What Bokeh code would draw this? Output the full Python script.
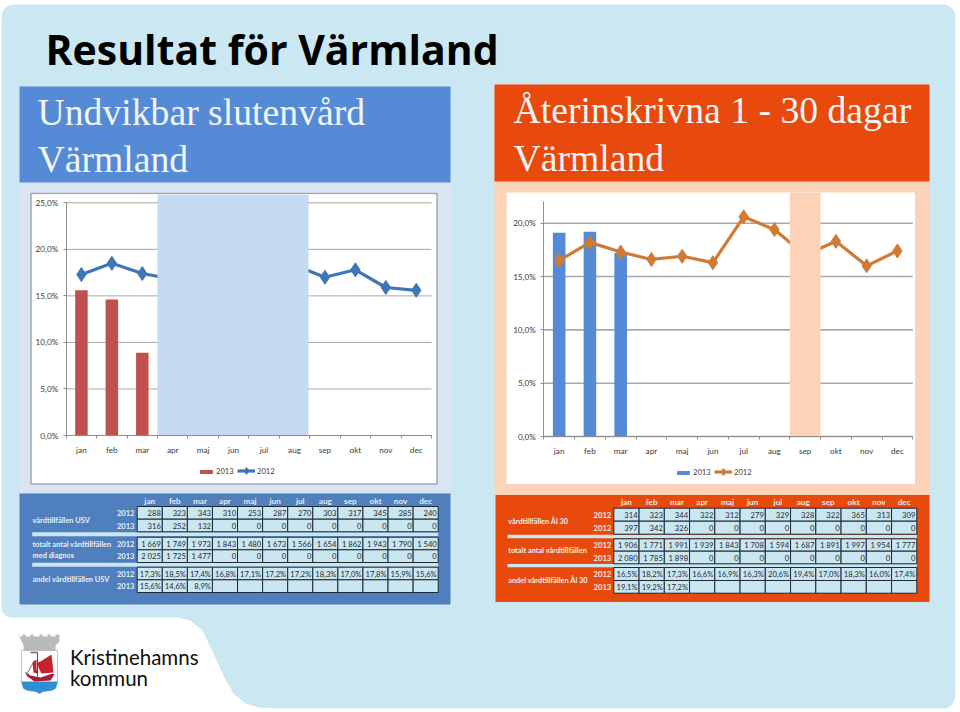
from bokeh.plotting import figure
from bokeh.embed import file_html
from bokeh.resources import INLINE
from bokeh.core.properties import value
from bokeh.models import Range1d, FixedTicker, Legend, LegendItem, ColumnDataSource

months = ["jan", "feb", "mar", "apr", "maj", "jun", "jul", "aug", "sep", "okt", "nov", "dec"]
pct_ticks = [0, 5, 10, 15, 20, 25]
pct_labels = ["0,0%", "5,0%", "10,0%", "15,0%", "20,0%", "25,0%"]

usv_count_2012 = [288, 323, 343, 310, 253, 287, 270, 303, 317, 345, 285, 240]
usv_count_2013 = [316, 252, 132, 0, 0, 0, 0, 0, 0, 0, 0, 0]
usv_total_2012 = [1669, 1749, 1973, 1843, 1480, 1673, 1566, 1654, 1862, 1943, 1790, 1540]
usv_total_2013 = [2025, 1725, 1477, 0, 0, 0, 0, 0, 0, 0, 0, 0]
usv_share_2012 = [17.3, 18.5, 17.4, 16.8, 17.1, 17.2, 17.2, 18.3, 17.0, 17.8, 15.9, 15.6]
usv_share_2013 = [15.6, 14.6, 8.9]

al_count_2012 = [314, 323, 344, 322, 312, 279, 329, 328, 322, 365, 313, 309]
al_count_2013 = [397, 342, 326, 0, 0, 0, 0, 0, 0, 0, 0, 0]
al_total_2012 = [1906, 1771, 1991, 1939, 1843, 1708, 1594, 1687, 1891, 1997, 1954, 1777]
al_total_2013 = [2080, 1785, 1898, 0, 0, 0, 0, 0, 0, 0, 0, 0]
al_share_2012 = [16.5, 18.2, 17.3, 16.6, 16.9, 16.3, 20.6, 19.4, 17.0, 18.3, 16.0, 17.4]
al_share_2013 = [19.1, 19.2, 17.2]

SANS = value("Lato")
SERIF = value("Liberation Serif")
BG = "#CAE7F2"
CELL = "#C9E6F1"
CELL_LINE = "#1F2A33"


def num(v):
    return f"{v:,}".replace(",", "\u00a0")


def pct(v):
    return f"{v:.1f}%".replace(".", ",")


def place(fig, left, top):
    fig.styles = {"position": "absolute", "left": f"{left}px", "top": f"{top}px"}


# ------------------------------------------------------------ backdrop
bg = figure(width=960, height=712, x_range=Range1d(0, 960), y_range=Range1d(712, 0),
            output_backend="svg", toolbar_location=None, min_border=0, outline_line_color=None,
            background_fill_color="white", border_fill_color="white")
bg.axis.visible = False
bg.grid.visible = False

page_x = [1, 1, 2, 5, 10, 178, 190, 202, 213, 223, 233, 245, 258, 272, 945, 951, 954, 955, 955, 954, 951, 945, 15, 8, 4, 2]
page_y = [18, 606, 611, 615, 617, 617, 620, 630, 653, 675, 693, 703, 707, 708, 708, 705, 700, 694, 16, 11, 7, 4, 4, 5, 8, 12]
bg.patch(page_x, page_y, fill_color=BG, line_color=None)

bg.text([45], [48], ["Resultat för Värmland"], text_font=value("Open Sans"), text_font_style="bold",
        text_font_size="41px", text_color="black", text_baseline="alphabetic")


def block(title_l, title_r, title_t, title_b, panel_b, title_color, panel_color, lines, xs, ys):
    bg.quad(left=[title_l], right=[title_r], top=[title_t], bottom=[panel_b], fill_color=panel_color, line_color=None)
    bg.quad(left=[title_l], right=[title_r], top=[title_t], bottom=[title_b], fill_color=title_color, line_color=None)
    bg.text(xs, ys, lines, text_font=SERIF, text_font_size="37.7px", text_color="#F2F5F8",
            text_baseline="alphabetic")


block(19, 450, 86, 182, 492, "#558BD6", "#DBE5F1", ["Undvikbar slutenvård", "Värmland"], [37, 37], [111, 158])
block(494, 929, 84, 181, 495, "#E8490C", "#FDD3B7", ["Återinskrivna 1 - 30 dagar", "Värmland"], [513, 513], [109, 157])

# panel behind left chart
bg.quad(left=[30.5], right=[436.5], top=[193], bottom=[483.5], fill_color="white", line_color="#A0A6AE", line_width=1.5)


def table(box, grid_l, grid_r, rows, strips, strip_l, header_y, year_x, label_x, labels, color, data):
    bg.quad(left=[box[0]], right=[box[1]], top=[box[2]], bottom=[box[3]], fill_color=color, line_color=None)
    w = (grid_r - grid_l) / 12
    # month heads
    bg.text([grid_l + (i + .5) * w for i in range(12)], [header_y] * 12, months, text_font=SANS,
            text_font_style="bold", text_font_size="8.2px", text_color="#E4EEF6", text_align="center",
            text_baseline="middle")
    for s in strips:
        bg.quad(left=[strip_l], right=[grid_r], top=[s[0]], bottom=[s[1]], fill_color=CELL, line_color=None)
    ls, rs, ts, bs, xs, ys, txt = [], [], [], [], [], [], []
    yx, yy, yt = [], [], []
    for (r, row) in enumerate(data):
        top, bot = rows[r]
        yx.append(year_x)
        yy.append((top + bot) / 2)
        yt.append("2012" if r % 2 == 0 else "2013")
        for c in range(12):
            ls.append(grid_l + c * w)
            rs.append(grid_l + (c + 1) * w)
            ts.append(top)
            bs.append(bot)
            xs.append(grid_l + (c + 1) * w - 1.5)
            ys.append((top + bot) / 2 + .3)
            txt.append(row[c] if c < len(row) else "")
    bg.quad(left=ls, right=rs, top=ts, bottom=bs, fill_color=CELL, line_color=CELL_LINE, line_width=1)
    bg.text(xs, ys, txt, text_font=SANS, text_font_size="7.6px", text_color="#1E2A34", text_align="right",
            text_baseline="middle")
    bg.text(yx, yy, yt, text_font=SANS, text_font_style="bold", text_font_size="7.6px", text_color="#E4EEF6",
            text_align="right", text_baseline="middle")
    bg.text([label_x] * len(labels), [l[1] for l in labels], [l[0] for l in labels], text_font=SANS,
            text_font_style="bold", text_font_size="7.4px", text_color="#E8F0F6", text_baseline="middle")


table((19, 450, 493, 604), 136.7, 437.7,
      [(506, 518.7), (518.7, 531.3), (536.7, 549.3), (549.3, 562), (566.7, 579.3), (579.3, 592)],
      [(531.7, 535.7), (562.3, 566.3)], 31.7, 500.5, 134, 32,
      [("vårdtillfällen USV", 519.5), ("totalt antal vårdtillfällen", 544), ("med diagnos", 555),
       ("andel vårdtillfällen USV", 579)], "#4F7FBD",
      [[num(v) for v in usv_count_2012], [num(v) for v in usv_count_2013],
       [num(v) for v in usv_total_2012], [num(v) for v in usv_total_2013],
       [pct(v) for v in usv_share_2012], [pct(v) for v in usv_share_2013]])

table((495, 929, 494.5, 601.5), 613.3, 916.3,
      [(507.7, 520.7), (520.7, 533.7), (538.3, 550.7), (550.7, 563.3), (567, 580), (580, 592.7)],
      [(534.3, 537.7), (563.6, 566.7)], 507, 501.7, 610.7, 507.7,
      [("vårdtillfällen Ål 30", 520.5), ("totalt antal vårdtillfällen", 550), ("andel vårdtillfällen Ål 30", 580)],
      "#E8490C",
      [[num(v) for v in al_count_2012], [num(v) for v in al_count_2013],
       [num(v) for v in al_total_2012], [num(v) for v in al_total_2013],
       [pct(v) for v in al_share_2012], [pct(v) for v in al_share_2013]])

# ------------------------------------------------------------ logo
merlon_x = [18, 18, 22, 22, 25, 25, 30, 30, 33, 33, 39, 39, 42, 42, 47, 47, 50, 50, 55, 55, 59, 59, 55, 55, 23, 23]
merlon_y = [634, 636, 636, 634, 634, 636, 636, 634, 634, 636, 636, 634, 634, 636, 636, 634, 634, 636, 636, 634, 634, 641, 645, 651, 651, 645]
bg.patch(merlon_x, merlon_y, fill_color="#B9BBB8", line_color=None)
bg.patch([21, 57, 57, 55, 51, 43, 39, 35, 27, 23, 21], [650, 650, 682, 688, 690, 691, 693, 691, 690, 688, 682],
         fill_color="white", line_color="#B0B4B8", line_width=.8)
bg.patch([21, 57, 57, 55, 51, 43, 39, 35, 27, 23, 21], [681, 681, 682, 688, 690, 691, 693, 691, 690, 688, 682],
         fill_color="#2E8FD2", line_color=None)
bg.patch([40, 51, 53, 41, 38, 37], [661, 654, 672, 673, 667, 662], fill_color="#C8202F", line_color=None)
bg.patch([32, 36, 36, 37, 33], [662, 659, 668, 673, 672], fill_color="#C8202F", line_color=None)
bg.patch([24, 30, 40, 52, 54, 50, 34, 27], [671, 675, 677, 673, 674, 680, 681, 676], fill_color="#A81E38", line_color=None)
bg.line([37, 37], [652, 676], line_color="#6B3A3A", line_width=1)
bg.line([30, 37], [652, 652], line_color="#8A5A5A", line_width=1.5)
bg.line([26, 34], [674, 660], line_color="#555555", line_width=.8)

bg.text([69.5, 69.5], [656, 677], ["Kristinehamns", "kommun"], text_font=value("Lato"), text_font_size="20.5px",
        text_color="#101010", text_baseline="alphabetic")


# ------------------------------------------------------------ charts
def chart(left, top, width, height, x0_px, x12_px, y0_px, ytop_px, ytop_val, y_axis_top, ticks, labels, share12, share13,
          bar_color, line_color, cover, cover_color, grid_width, legend_bar, legend_line):
    # ranges are chosen so that the frame fills the whole white panel; axes sit inside it
    sx = (x12_px - x0_px) / 12
    sy = (y0_px - ytop_px) / ytop_val
    x_start = (left - x0_px) / sx
    x_end = (left + width - x0_px) / sx
    y_end = (y0_px - top) / sy
    y_start = -(top + height - y0_px) / sy
    p = figure(width=width, height=height, x_range=Range1d(x_start, x_end), y_range=Range1d(y_start, y_end),
               output_backend="svg", toolbar_location=None, min_border=0, outline_line_color=None,
               background_fill_color="white", border_fill_color="white")
    place(p, left, top)
    centers = [i + .5 for i in range(12)]
    p.xaxis.fixed_location = 0
    p.yaxis.fixed_location = 0
    p.xaxis.bounds = (0, 12)
    p.xaxis.ticker = FixedTicker(ticks=centers, minor_ticks=list(range(13)))
    p.xaxis.major_label_overrides = {c: m for c, m in zip(centers, months)}
    p.xaxis.major_tick_in = 0
    p.xaxis.major_tick_out = 0
    p.xaxis.minor_tick_in = 0
    p.xaxis.minor_tick_out = 3
    p.xaxis.minor_tick_line_color = "#8E8E8E"
    p.xaxis.major_label_standoff = 6
    p.yaxis.ticker = FixedTicker(ticks=ticks)
    p.yaxis.major_label_overrides = {t: l for t, l in zip(ticks, labels)}
    p.yaxis.bounds = (0, y_axis_top)
    p.yaxis.major_tick_in = 0
    p.yaxis.major_tick_out = 3
    p.yaxis.minor_tick_out = 0
    p.yaxis.minor_tick_in = 0
    p.yaxis.major_tick_line_color = "#8E8E8E"
    p.yaxis.major_label_standoff = 5
    for ax in (p.xaxis, p.yaxis):
        ax.axis_line_color = "#8E8E8E"
        ax.axis_line_width = 1
        ax.major_label_text_font = "Lato"
        ax.major_label_text_font_size = "8.2px"
        ax.major_label_text_color = "#3A3A3A"
    p.grid.visible = False
    p.segment(x0=[0] * len(ticks), x1=[12] * len(ticks), y0=ticks, y1=ticks, line_color="#A8A8A8",
              line_width=grid_width)

    src13 = ColumnDataSource(dict(x=centers[:len(share13)], v=share13))
    src12 = ColumnDataSource(dict(x=centers, v=share12))
    bars = p.vbar(x="x", top="v", width=.41, source=src13, fill_color=bar_color, line_color=None)
    ln = p.line(x="x", y="v", source=src12, line_color=line_color, line_width=3.2)
    mk = p.scatter(x="x", y="v", source=src12, marker="diamond", size=14, fill_color=line_color, line_color=line_color)
    p.quad(left=[cover[0]], right=[cover[1]], bottom=[0], top=[y_end], fill_color=cover_color, line_color=None)

    # two legends, because the swatch height sets the size of the legend's marker
    common = dict(orientation="horizontal", border_line_color=None, background_fill_alpha=0,
                  label_text_font="Lato", label_text_font_size="7.6px", label_text_color="#3A3A3A",
                  label_height=10, label_standoff=2, spacing=0, padding=0, margin=0)
    p.add_layout(Legend(items=[LegendItem(label="2013", renderers=[bars])], location=legend_bar,
                        glyph_width=16, glyph_height=5, **common), "center")
    p.add_layout(Legend(items=[LegendItem(label="2012", renderers=[ln, mk])], location=legend_line,
                        glyph_width=18, glyph_height=17, **common), "center")
    return p


c1 = chart(32, 194, 403, 288, 65.7, 431, 435, 202.3, 25, 25, pct_ticks, pct_labels, usv_share_2012, usv_share_2013,
           "#C0504D", "#3F76B8", (3, 7.96), "#C5D9F0", 1, (166, 6), (205, 3))
c2 = chart(506, 192, 409, 292, 543.3, 912.3, 436, 222.7, 20, 22, pct_ticks[:5], pct_labels[:5], al_share_2012,
           al_share_2013, "#558BD6", "#CF7B36", (8, 9), "#FDD3B7", 1.6, (169, 7), (208, 4))

place(bg, 0, 0)
open("out.html", "w").write(file_html([bg, c1, c2], INLINE))
